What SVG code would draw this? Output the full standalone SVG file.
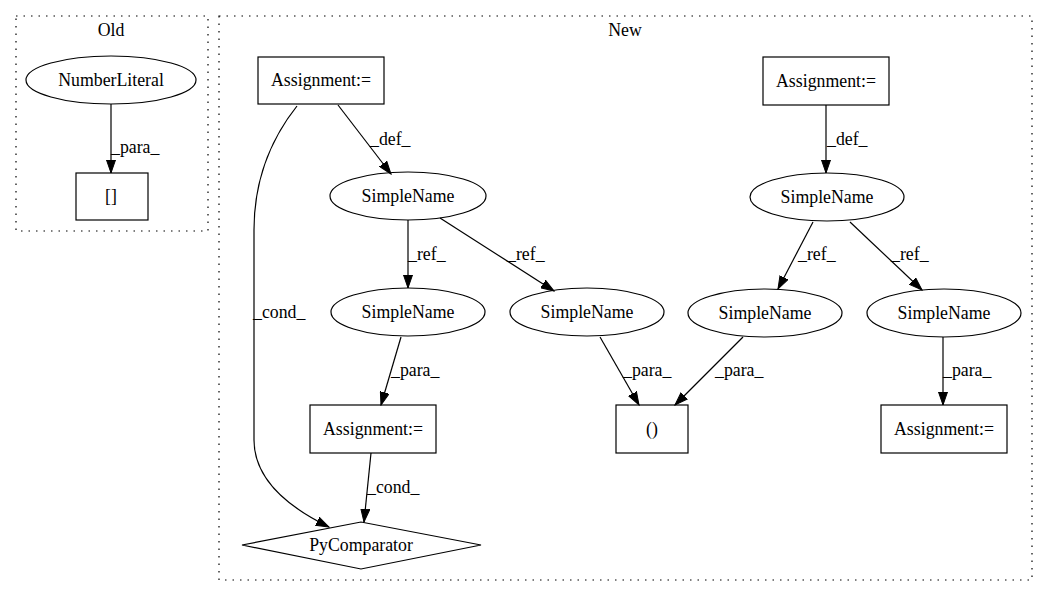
<svg xmlns="http://www.w3.org/2000/svg" width="1048" height="596" viewBox="0 0 1048 596">
<style>
text{font-family:"Liberation Serif","Times New Roman",serif;font-size:17.8px;fill:#000}
.n text,.t{text-anchor:middle}
.n ellipse,.n rect,.n polygon{fill:none;stroke:#000;stroke-width:1.2}
.c{fill:none;stroke:#000;stroke-width:1.2;stroke-dasharray:1.5,6}
.e path{fill:none;stroke:#000;stroke-width:1.2;marker-end:url(#ah)}
</style>
<defs>
<marker id="ah" markerUnits="userSpaceOnUse" markerWidth="14" markerHeight="10" refX="13" refY="5" orient="auto">
<path d="M0,0.5 L13,5 L0,9.5 z" fill="#000" stroke="#000" stroke-width="1"/>
</marker>
</defs>
<rect width="1048" height="596" fill="#fff"/>
<g id="cluster_old"><rect class="c" x="16" y="16" width="192" height="215"/><text class="t" x="111" y="36">Old</text></g>
<g id="cluster_new"><rect class="c" x="219" y="16" width="813" height="564"/><text class="t" x="625" y="36">New</text></g>

<g id="edges" class="e">
<path d="M111,104 L111,173"/>
<path d="M338,105 L391,174"/>
<path d="M297,106 C270,140 254,180 254,230 L254,440 C254,480 290,508 329,527"/>
<path d="M408,220 L408,288"/>
<path d="M440,218 L554,291"/>
<path d="M401,337 L381,405"/>
<path d="M371,453 L364,522"/>
<path d="M600,337 L639,405"/>
<path d="M743,337 L675,405"/>
<path d="M826,105 L826,173"/>
<path d="M813,222 L778,289"/>
<path d="M850,222 L922,290"/>
<path d="M943,337 L943,405"/>
</g>
<g id="edge_labels">
<text x="111" y="153">_para_</text>
<text x="370" y="145">_def_</text>
<text x="253" y="318">_cond_</text>
<text x="408" y="260">_ref_</text>
<text x="507" y="260">_ref_</text>
<text x="391" y="376">_para_</text>
<text x="367" y="493">_cond_</text>
<text x="623" y="376">_para_</text>
<text x="715" y="376">_para_</text>
<text x="827" y="145">_def_</text>
<text x="798" y="260">_ref_</text>
<text x="891" y="260">_ref_</text>
<text x="943" y="376">_para_</text>
</g>

<g id="n_numberliteral" class="n"><ellipse cx="111" cy="80" rx="85" ry="24"/><text x="111" y="86">NumberLiteral</text></g>
<g id="n_index" class="n"><rect x="76" y="173" width="72" height="47"/><text x="111" y="202">[]</text></g>
<g id="n_assign1" class="n"><rect x="258" y="57" width="126" height="47"/><text x="321" y="86">Assignment:=</text></g>
<g id="n_sn1" class="n"><ellipse cx="408" cy="196" rx="78" ry="24"/><text x="408" y="202">SimpleName</text></g>
<g id="n_assign2" class="n"><rect x="763" y="57" width="126" height="48"/><text x="826" y="87">Assignment:=</text></g>
<g id="n_sn2" class="n"><ellipse cx="827" cy="197" rx="77" ry="24"/><text x="827" y="203">SimpleName</text></g>
<g id="n_sn3" class="n"><ellipse cx="408" cy="312" rx="77" ry="24"/><text x="408" y="318">SimpleName</text></g>
<g id="n_sn4" class="n"><ellipse cx="587" cy="312" rx="77" ry="24"/><text x="587" y="318">SimpleName</text></g>
<g id="n_sn5" class="n"><ellipse cx="765" cy="313" rx="77" ry="24"/><text x="765" y="319">SimpleName</text></g>
<g id="n_sn6" class="n"><ellipse cx="944" cy="313" rx="77" ry="24"/><text x="944" y="319">SimpleName</text></g>
<g id="n_assign3" class="n"><rect x="310" y="405" width="126" height="48"/><text x="373" y="435">Assignment:=</text></g>
<g id="n_call" class="n"><rect x="616" y="405" width="72" height="48"/><text x="652" y="435">()</text></g>
<g id="n_assign4" class="n"><rect x="881" y="405" width="126" height="48"/><text x="944" y="435">Assignment:=</text></g>
<g id="n_pycomparator" class="n"><polygon points="242,545 361,522 481,545 361,569"/><text x="361" y="551">PyComparator</text></g>
</svg>
